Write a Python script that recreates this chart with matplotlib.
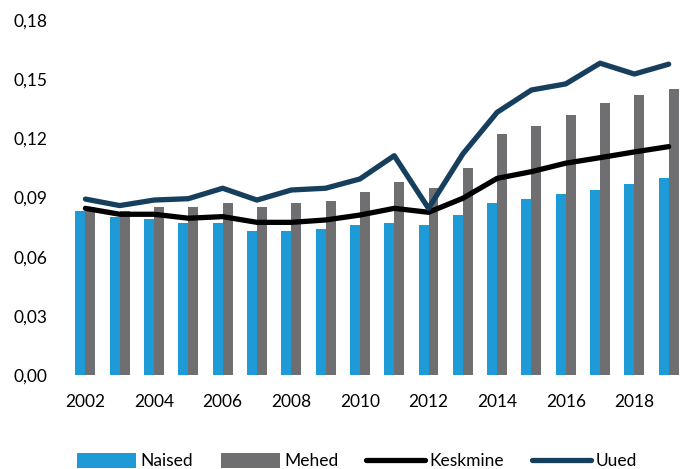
import matplotlib.pyplot as plt
import numpy as np

plt.rcParams['font.family'] = ['Lato', 'DejaVu Sans']

years = list(range(2002, 2020))
naised = [0.083, 0.080, 0.079, 0.077, 0.077, 0.073, 0.073, 0.074, 0.076, 0.077,
          0.076, 0.081, 0.087, 0.089, 0.092, 0.094, 0.097, 0.100]
mehed = [0.085, 0.083, 0.085, 0.085, 0.087, 0.085, 0.087, 0.088, 0.093, 0.098,
         0.095, 0.105, 0.122, 0.126, 0.132, 0.138, 0.142, 0.145]
keskmine = [0.0845, 0.0815, 0.0815, 0.0795, 0.0803, 0.0774, 0.0774, 0.0786, 0.0811, 0.0845,
            0.0825, 0.0896, 0.0997, 0.1031, 0.1074, 0.1102, 0.1131, 0.1158]
uued = [0.0892, 0.0859, 0.0887, 0.0894, 0.0947, 0.0887, 0.0938, 0.0947, 0.0994, 0.1112,
        0.0845, 0.1121, 0.1332, 0.1445, 0.1476, 0.1581, 0.1526, 0.1576]
yticks = [0.0, 0.03, 0.06, 0.09, 0.12, 0.15, 0.18]

x = np.arange(len(years))
w = 0.29

fig = plt.figure(figsize=(6.8, 4.69), dpi=100)
ax = fig.add_axes([70 / 680, 94 / 469, 610 / 680, 355 / 469])

b1 = ax.bar(x - w / 2, naised, w, color='#1E9BD7', label='Naised')
b2 = ax.bar(x + w / 2, mehed, w, color='#6F6F72', label='Mehed')
l1, = ax.plot(x, keskmine, color='black', lw=3.8, solid_capstyle='round', label='Keskmine')
l2, = ax.plot(x, uued, color='#163F5E', lw=3.8, solid_capstyle='round', label='Uued')

ax.set_xlim(-0.45, 17.33)
ax.set_ylim(0, 0.18)
ax.set_yticks(yticks)
ax.set_yticklabels([f'{v:.2f}'.replace('.', ',') for v in yticks])
ax.set_xticks(x[::2])
ax.set_xticklabels([str(y) for y in years[::2]])
ax.tick_params(length=0, labelsize=12.5, pad=16)
ax.tick_params(axis='x', pad=14)
for s in ax.spines.values():
    s.set_visible(False)

ax.legend([b1, b2, l1, l2], ['Naised', 'Mehed', 'Keskmine', 'Uued'],
          loc='lower center', bbox_to_anchor=(0.47, -0.31), ncol=4, frameon=False,
          fontsize=12.5, handlelength=3.4, handleheight=0.9, handletextpad=0.25,
          columnspacing=1.6)

fig.savefig('out.png', dpi=100)
